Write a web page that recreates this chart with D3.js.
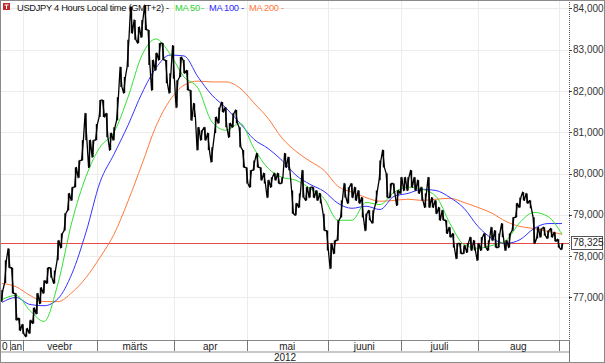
<!DOCTYPE html>
<html lang="et">
<head>
<meta charset="UTF-8">
<title>USDJPY 4 Hours</title>
<script src="https://d3js.org/d3.v7.min.js"></script>
<style>
    body { margin: 0; background: #fff; }
    svg { display: block; font-family: "Liberation Sans", Arial, sans-serif; }
    .grid line { stroke: #ececec; stroke-width: 1px; shape-rendering: crispEdges; }
    .ma { fill: none; stroke-width: 1px; }
</style>
</head>
<body>
<svg width="605" height="363"></svg>
<script>
    // trading days counted from the first bar on the chart
    const dayHigh = [
        77.18, 77.90, 78.18, 77.72, 77.10, 76.50, 76.35, 76.25, 76.45, 76.75,
        77.10, 77.24, 77.41, 77.72, 77.72, 77.65, 78.38, 78.55, 79.04, 79.52,
        79.67, 80.15, 80.32, 80.81, 81.46, 80.81, 80.81, 81.20, 81.78, 81.78,
        81.46, 80.98, 81.12, 81.85, 82.58, 82.34, 83.24, 84.04, 83.72, 83.55,
        83.72, 84.08, 83.48, 82.75, 82.92, 83.16, 83.16, 82.75, 82.43, 83.10,
        82.26, 82.82, 82.75, 82.50, 82.02, 81.70, 81.12, 81.05, 81.12, 80.98,
        80.64, 81.37, 81.60, 81.73, 81.60, 81.22, 81.46, 81.54, 81.12, 80.57,
        80.15, 80.08, 80.32, 80.49, 80.15, 80.01, 79.84, 79.91, 80.01, 80.01,
        79.91, 80.49, 80.40, 79.59, 79.28, 79.52, 80.08, 79.67, 79.67, 79.67,
        79.59, 79.52, 79.03, 78.62, 78.31, 78.38, 78.87, 79.35, 79.76, 79.67,
        79.76, 79.67, 79.59, 79.42, 79.03, 79.11, 79.11, 79.59, 80.32, 80.57,
        80.01, 79.76, 79.76, 79.59, 79.91, 79.91, 79.91, 80.08, 79.91, 79.84,
        79.67, 79.52, 79.91, 79.42, 79.35, 79.18, 79.11, 78.87, 78.70, 78.55,
        78.31, 78.31, 78.26, 78.31, 78.46, 78.38, 78.31, 78.46, 78.55, 78.38,
        78.70, 78.62, 78.55, 78.79, 78.38, 78.55, 78.94, 79.28, 79.42, 79.55,
        79.52, 79.35, 78.94, 78.70, 78.67, 78.70, 78.62, 78.67, 78.58, 78.41,
        78.31
    ];
    const dayLow = [
        76.90, 77.35, 77.72, 77.10, 76.45, 76.20, 76.12, 76.05, 76.13, 76.37,
        76.60, 76.85, 77.10, 77.34, 77.48, 77.34, 77.90, 78.20, 78.62, 79.11,
        79.35, 79.67, 79.90, 80.32, 80.81, 80.15, 80.40, 80.81, 81.37, 81.37,
        80.88, 80.57, 80.81, 81.29, 82.10, 81.95, 82.58, 83.40, 83.24, 83.16,
        83.30, 83.48, 82.63, 82.02, 82.50, 82.75, 82.75, 82.19, 81.95, 82.30,
        81.60, 82.34, 82.43, 82.02, 81.29, 81.37, 80.57, 80.81, 80.81, 80.57,
        80.28, 80.98, 81.22, 81.49, 81.12, 80.88, 81.12, 81.22, 80.64, 80.15,
        79.76, 79.67, 80.08, 80.15, 79.84, 79.76, 79.42, 79.67, 79.84, 79.76,
        79.76, 80.15, 80.08, 79.03, 78.99, 79.18, 79.42, 79.35, 79.42, 79.42,
        79.35, 79.28, 78.62, 78.14, 77.70, 78.06, 78.38, 78.94, 79.42, 79.28,
        79.42, 79.35, 79.28, 78.94, 78.62, 78.87, 78.80, 79.28, 79.84, 80.15,
        79.42, 79.42, 79.52, 79.23, 79.52, 79.59, 79.59, 79.67, 79.59, 79.52,
        79.35, 79.18, 79.18, 79.18, 79.03, 78.87, 78.87, 78.55, 78.46, 78.21,
        77.94, 78.06, 78.06, 78.09, 78.14, 78.14, 77.90, 78.14, 78.21, 78.14,
        78.38, 78.21, 78.21, 78.46, 78.14, 78.21, 78.62, 78.94, 79.18, 79.35,
        79.28, 79.16, 78.31, 78.43, 78.46, 78.50, 78.43, 78.46, 78.36, 78.21,
        78.16
    ];

    // moving averages at these day positions
    const maDays = [0, 4, 8, 12, 16, 20, 24, 28, 32, 36, 40, 44, 48, 52, 56, 60, 64, 68, 72, 76,
        80, 84, 88, 92, 96, 100, 104, 108, 112, 116, 120, 124, 128, 132, 136, 140, 144, 148, 152, 156, 160];
    const ma50 = [76.95, 77.05, 76.68, 76.42, 77.34, 78.84, 79.93, 80.64, 81.00, 81.85,
        82.87, 83.26, 82.90, 82.34, 82.07, 81.25, 81.05, 81.22, 80.61, 80.13,
        79.91, 79.84, 79.64, 79.40, 78.87, 78.87, 79.30, 79.25, 79.55, 79.67,
        79.62, 79.45, 78.79, 78.28, 78.19, 78.26, 78.38, 78.82, 79.06, 78.96, 78.53];
    const ma100 = [76.88, 77.00, 76.83, 76.80, 76.97, 77.58, 78.58, 79.79, 80.47, 81.17,
        81.95, 82.56, 82.87, 82.85, 82.34, 81.90, 81.59, 81.22, 80.83, 80.61,
        80.32, 79.96, 79.74, 79.57, 79.28, 79.16, 79.21, 79.13, 79.45, 79.52,
        79.62, 79.59, 79.42, 79.16, 78.72, 78.43, 78.31, 78.40, 78.67, 78.79, 78.79];
    const ma200 = [77.34, 77.26, 77.05, 76.90, 76.90, 77.12, 77.48, 77.97, 78.53, 79.33,
        80.23, 81.15, 81.78, 82.14, 82.24, 82.22, 82.22, 82.07, 81.71, 81.34,
        80.86, 80.54, 80.30, 80.08, 79.69, 79.55, 79.42, 79.33, 79.35, 79.38,
        79.35, 79.38, 79.40, 79.30, 79.18, 79.04, 78.84, 78.72, 78.67, 78.60, 78.53];

    const lastPrice = 78.325;
    const priceTicks = [77, 78, 79, 80, 81, 82, 83, 84];

    // month cells on the time axis (start day of each cell); first two are cut at the left edge
    const monthStarts = [2.3, 6, 27, 49, 70, 93, 114, 136, 159];
    const monthLabels = ["0", "an", "veebr", "märts", "apr", "mai", "juuni", "juuli", "aug", ""];
    const yearLabel = "2012";

    const legendParts = [
        { text: "USDJPY 4 Hours Local time (GMT+2)", color: "#111", x: 17 },
        { text: "-", color: "#111", x: 166 },
        { text: "MA 50", color: "#2ed62e", x: 175 },
        { text: "-", color: "#2ed62e", x: 201 },
        { text: "MA 100", color: "#2b2bff", x: 209 },
        { text: "-", color: "#2b2bff", x: 241 },
        { text: "MA 200", color: "#ff7a3c", x: 249 },
        { text: "-", color: "#ff7a3c", x: 281 }
    ];

    const W = 605, H = 363;
    const plot = { left: 1, right: 569, top: 1, bottom: 340 };

    const svg = d3.select("svg");

    const x = d3.scaleLinear().domain([0, 162]).range([2, plot.right]);
    const y = d3.scaleLinear().domain([75.97, 84.18]).range([plot.bottom, plot.top]);

    svg.append("rect").attr("width", W).attr("height", H).attr("fill", "#fff");

    // grid
    const grid = svg.append("g").attr("class", "grid");
    grid.selectAll(".h").data(priceTicks).enter().append("line")
        .attr("x1", plot.left).attr("x2", plot.right)
        .attr("y1", d => Math.round(y(d)) + 0.5).attr("y2", d => Math.round(y(d)) + 0.5);
    grid.selectAll(".v").data(monthStarts.slice(1)).enter().append("line")
        .attr("x1", d => Math.round(x(d)) + 0.5).attr("x2", d => Math.round(x(d)) + 0.5)
        .attr("y1", plot.top).attr("y2", plot.bottom);

    // last price line
    svg.append("rect")
        .attr("x", plot.left).attr("width", plot.right - plot.left)
        .attr("y", Math.round(y(lastPrice))).attr("height", 1)
        .attr("fill", "#e84a4a");

    // moving averages
    const maLine = d3.line()
        .x((d, i) => x(maDays[i]))
        .y(d => y(d))
        .curve(d3.curveMonotoneX);

    [[ma200, "#ff7a3c"], [ma100, "#3434ff"], [ma50, "#33e033"]].forEach(function (m) {
        svg.append("path").attr("class", "ma")
            .attr("d", maLine(m[0]))
            .attr("stroke", m[1]);
    });

    // price: a trace running through each day's extremes, plus the high-low bars
    const trace = [];
    dayHigh.forEach(function (h, i) {
        const lo = dayLow[i];
        const nextMid = i < dayHigh.length - 1 ? (dayHigh[i + 1] + dayLow[i + 1]) / 2 : lastPrice;
        const up = nextMid >= (h + lo) / 2;
        trace.push([x(i) - 0.9, y(up ? lo : h)]);
        trace.push([x(i) + 0.9, y(up ? h : lo)]);
    });
    svg.append("path")
        .attr("d", d3.line()(trace))
        .attr("fill", "none").attr("stroke", "#000").attr("stroke-width", 1.3)
        .attr("stroke-linejoin", "round");

    svg.append("g").selectAll("line")
        .data(dayHigh)
        .enter()
        .append("line")
        .attr("x1", (d, i) => x(i)).attr("x2", (d, i) => x(i))
        .attr("y1", d => y(d))
        .attr("y2", (d, i) => y(dayLow[i]))
        .attr("stroke", "#000")
        .attr("stroke-width", 1.4);

    // legend
    svg.append("rect").attr("x", 3).attr("y", 3).attr("width", 7).attr("height", 7).attr("fill", "#c0282d");
    svg.append("path").attr("d", "M4.5,5 L8.5,5 M6.5,5 L6.5,9").attr("stroke", "#fff").attr("stroke-width", 1);
    svg.append("g").selectAll("text").data(legendParts).enter().append("text")
        .attr("x", d => d.x).attr("y", 11)
        .attr("font-size", 9.3)
        .attr("letter-spacing", -0.3)
        .attr("fill", d => d.color)
        .text(d => d.text);

    // right price axis
    svg.append("line")
        .attr("x1", plot.right + 0.5).attr("x2", plot.right + 0.5)
        .attr("y1", 0).attr("y2", plot.bottom)
        .attr("stroke", "#555").attr("stroke-dasharray", "1,1");
    svg.append("line")
        .attr("x1", plot.right + 0.5).attr("x2", plot.right + 0.5)
        .attr("y1", plot.bottom).attr("y2", H)
        .attr("stroke", "#777");

    const yAxis = svg.append("g");
    yAxis.selectAll("line").data(priceTicks).enter().append("line")
        .attr("x1", plot.right).attr("x2", plot.right + 3)
        .attr("y1", d => Math.round(y(d)) + 0.5).attr("y2", d => Math.round(y(d)) + 0.5)
        .attr("stroke", "#444");
    const fmt = v => d3.format(",.3f")(v).replace(".", ",");
    yAxis.selectAll("text").data(priceTicks).enter().append("text")
        .attr("x", 573).attr("y", d => y(d) + 3.5)
        .attr("font-size", 10).attr("fill", "#333")
        .text(fmt);

    // last price box
    svg.append("rect")
        .attr("x", 571.5).attr("y", Math.round(y(lastPrice)) - 6.5)
        .attr("width", 31).attr("height", 13)
        .attr("fill", "#fff").attr("stroke", "#555");
    svg.append("text")
        .attr("x", 573).attr("y", y(lastPrice) + 3.5)
        .attr("font-size", 10).attr("fill", "#222")
        .text(fmt(lastPrice));

    // time axis
    svg.append("line").attr("x1", 0).attr("x2", plot.right)
        .attr("y1", plot.bottom + 0.5).attr("y2", plot.bottom + 0.5).attr("stroke", "#888");
    svg.append("line").attr("x1", 0).attr("x2", plot.right)
        .attr("y1", 352).attr("y2", 352).attr("stroke", "#c8c8c8").attr("stroke-width", 2);

    const cellEdges = [-0.3].concat(monthStarts, [162]);
    const cells = svg.append("g");
    monthLabels.forEach(function (label, i) {
        const x0 = Math.max(plot.left, x(cellEdges[i]));
        const x1 = Math.min(plot.right, x(cellEdges[i + 1]));
        if (i > 0) {
            cells.append("line")
                .attr("x1", Math.round(x0) + 0.5).attr("x2", Math.round(x0) + 0.5)
                .attr("y1", plot.bottom).attr("y2", 351)
                .attr("stroke", "#777");
        }
        const partial = (x1 - x0) < 30;
        cells.append("text")
            .attr("x", partial ? x0 + 1 : (x0 + x1) / 2)
            .attr("y", 349.5)
            .attr("text-anchor", partial ? "start" : "middle")
            .attr("font-size", 10).attr("fill", "#222")
            .text(label);
    });

    svg.append("text")
        .attr("x", (plot.left + plot.right) / 2).attr("y", 361)
        .attr("text-anchor", "middle")
        .attr("font-size", 10).attr("fill", "#222")
        .text(yearLabel);

    // outer frame
    svg.append("rect").attr("x", 0.5).attr("y", 0.5)
        .attr("width", W - 1).attr("height", H - 1)
        .attr("fill", "none").attr("stroke", "#8a8a8a");
</script>
</body>
</html>
